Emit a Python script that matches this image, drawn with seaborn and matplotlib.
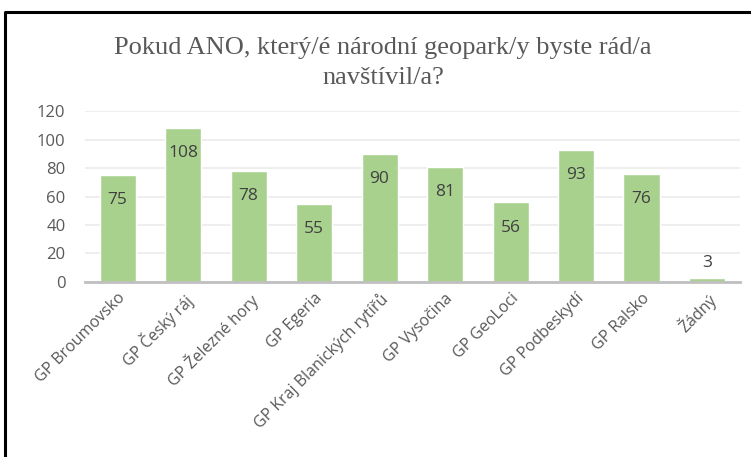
import matplotlib
matplotlib.use("Agg")
import matplotlib.pyplot as plt
from matplotlib.lines import Line2D
import pandas as pd
import seaborn as sb

# survey answers: which national geopark would you like to visit
categories = ["GP Broumovsko", "GP Český ráj", "GP Železné hory", "GP Egeria",
              "GP Kraj Blanických rytířů", "GP Vysočina", "GP GeoLoci",
              "GP Podbeskydí", "GP Ralsko", "Žádný"]
counts = [75, 108, 78, 55, 90, 81, 56, 93, 76, 3]
y_ticks = [0, 20, 40, 60, 80, 100, 120]

title = "Pokud ANO, který/é národní geopark/y byste rád/a\nnavštívil/a?"

df = pd.DataFrame({"geopark": categories, "count": counts})

sb.set_theme(style="white")
plt.rcParams["font.family"] = ["Open Sans", "DejaVu Sans"]

fig, ax = plt.subplots(figsize=(7.51, 4.57), dpi=100)
fig.subplots_adjust(left=0.113, right=0.985, bottom=0.383, top=0.757)

sb.barplot(data=df, x="geopark", y="count", color="#A9D18E", width=0.55,
           saturation=1, ax=ax)

ax.set_ylim(0, 120)
ax.set_xlim(-0.5, len(categories) - 0.5)
ax.set_yticks(y_ticks)
ax.yaxis.grid(True, color="#EBEBEB", linewidth=1.2)
ax.set_axisbelow(True)
for side in ["left", "right", "top"]:
    ax.spines[side].set_visible(False)
ax.spines["bottom"].set_color("#BFBFBF")
ax.spines["bottom"].set_linewidth(2)
ax.set_xlabel("")
ax.set_ylabel("")
ax.tick_params(axis="both", length=0, colors="#595959", labelsize=12)
ax.tick_params(axis="y", pad=14)
ax.tick_params(axis="x", pad=6)
plt.setp(ax.get_xticklabels(), rotation=45, ha="right", rotation_mode="anchor",
         fontsize=11.5)

# value labels inside the bar end, small bars get theirs above
bars = ax.containers[0]
inside = [str(v) if v >= 20 else "" for v in counts]
outside = [str(v) if v < 20 else "" for v in counts]
ax.bar_label(bars, labels=inside, padding=-24, color="#404040", fontsize=12.5)
ax.bar_label(bars, labels=outside, padding=5, color="#404040", fontsize=12.5)

fig.suptitle(title, x=0.51, y=0.92, fontsize=19, color="#595959",
             family="Liberation Serif", linespacing=1.5)

# frame lines from the original screenshot
fig.add_artist(Line2D([5 / 751, 5 / 751, 1.0], [0.0, 1 - 12 / 457, 1 - 12 / 457],
                      color="black", linewidth=2.2, transform=fig.transFigure))

fig.savefig("out.png", dpi=100)
